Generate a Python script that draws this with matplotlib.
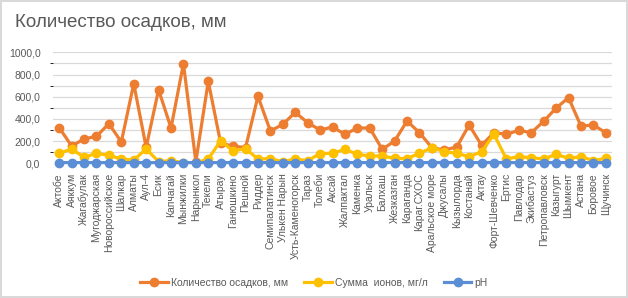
import matplotlib
matplotlib.use("Agg")
import matplotlib.pyplot as plt
from matplotlib.ticker import FuncFormatter, MultipleLocator

# stations along the x axis
stations = [
    "Актобе", "Аяккум", "Жагабулак", "Мугоджарская", "Новороссийское", "Шалкар",
    "Алматы", "Аул-4", "Есик", "Капчагай", "Мынжилки", "Нарынкол", "Текели",
    "Атырау", "Ганюшкино", "Пешной", "Риддер", "Семипалатинск", "Улькен Нарын",
    "Усть-Каменогорск", "Тараз", "Толеби", "Аксай", "Жалпактал", "Каменка",
    "Уральск", "Балхаш", "Жезказган", "Караганда", "Караг.СХОС", "Аральское море",
    "Джусалы", "Кызылорда", "Костанай", "Актау", "Форт-Шевченко", "Ертис",
    "Павлодар", "Экибастуз", "Петропавловск", "Казыгурт", "Шымкент", "Астана",
    "Боровое", "Щучинск",
]

# precipitation, mm
precip = [
    321, 156, 219, 243, 357, 192, 717, 144, 663, 318, 897, 15, 738,
    180, 156, 141, 603, 291, 351, 459, 366, 300, 327, 261, 318,
    318, 126, 201, 381, 276, 141, 120, 147, 345, 162, 276, 261,
    297, 276, 378, 498, 591, 336, 345, 276,
]

# sum of ions, mg/l
ions = [
    90, 129, 54, 90, 72, 39, 30, 129, 15, 24, 6, 4, 39,
    204, 111, 132, 39, 42, 15, 39, 24, 88, 90, 126, 81,
    66, 66, 45, 42, 90, 141, 105, 90, 60, 105, 261, 39,
    60, 51, 39, 81, 45, 60, 24, 45,
]

# pH
ph = [
    6.4, 6.2, 6.5, 6.3, 6.1, 6.6, 5.9, 6.3, 6.0, 6.2, 5.8, 6.1, 6.0,
    6.7, 6.5, 6.6, 6.0, 6.3, 6.1, 6.2, 6.4, 6.5, 6.3, 6.6, 6.4,
    6.5, 6.7, 6.4, 6.3, 6.2, 6.8, 6.6, 6.7, 6.4, 6.9, 7.0, 6.3,
    6.5, 6.4, 6.2, 6.3, 6.5, 6.2, 6.0, 6.1,
]

plt.rcParams['font.family'] = ['Liberation Sans', 'DejaVu Sans']

fig = plt.figure(figsize=(6.28, 2.98), dpi=100)
fig.patch.set_facecolor("white")
fig.patch.set_edgecolor("#D9D9D9")
fig.patch.set_linewidth(1.5)

ax = fig.add_axes([53 / 628, 1 - 163.3 / 298, (612 - 53) / 628, (163.3 - 52.3) / 298])

x = list(range(len(stations)))
ax.plot(x, precip, color="#ED7D31", lw=2.3, marker="o", ms=6,
        label="Количество осадков, мм", zorder=3)
ax.plot(x, ions, color="#FFC000", lw=2.3, marker="o", ms=6,
        label="Сумма  ионов, мг/л", zorder=4)
ax.plot(x, ph, color="#5B8ED5", lw=2.3, marker="o", ms=6,
        label="pH", zorder=5, clip_on=False)

ax.set_xlim(-0.5, len(stations) - 0.5)
ax.set_ylim(0, 1000)
ax.yaxis.set_major_locator(MultipleLocator(200))
ax.yaxis.set_minor_locator(MultipleLocator(100))
ax.yaxis.set_major_formatter(FuncFormatter(lambda v, p: f"{v:.1f}".replace(".", ",")))
ax.grid(axis="y", which="both", color="#D9D9D9", lw=0.9)
ax.set_axisbelow(True)
for s in ax.spines.values():
    s.set_visible(False)

ax.set_xticks(x)
ax.set_xticklabels(stations, rotation=90, fontsize=7.5, color="#595959")
ax.tick_params(axis="both", length=0)
ax.tick_params(axis="x", pad=7)
ax.tick_params(axis="y", labelsize=7.5, labelcolor="#595959", pad=9)

fig.text(15 / 628, 1 - 22.5 / 298, "Количество осадков, мм", fontsize=13.5,
         color="#595959", va="center", ha="left")

fig.legend(loc="center", bbox_to_anchor=(0.5, 1 - 282.5 / 298), ncol=3,
           frameon=False, fontsize=7.5, handlelength=2.6, columnspacing=1.6,
           handletextpad=0.3, labelcolor="#595959")

fig.savefig("out.png", dpi=100)
